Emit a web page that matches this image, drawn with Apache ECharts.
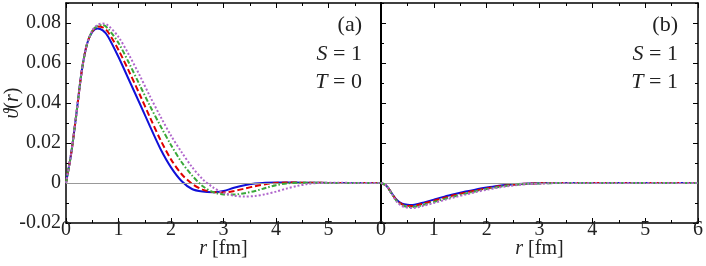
<!DOCTYPE html>
<html><head><meta charset="utf-8">
<script src="https://cdn.jsdelivr.net/npm/echarts@6/dist/echarts.min.js"></script>
<style>html,body{margin:0;padding:0;background:#fff}#c{width:706px;height:266px}</style>
</head><body><div id="c"></div>
<script>
var rVals = [0,0.1,0.2,0.3,0.4,0.5,0.6,0.7,0.8,1.0,1.2,1.4,1.6,1.8,2.0,2.2,2.4,2.6,2.8,3.0,3.2,3.4,3.6,3.8,4.0,4.2,4.4,4.6,4.8,5.2,5.6,6.0];
var aBlue   = [0,0.015,0.035,0.056,0.0695,0.0755,0.0772,0.0763,0.0733,0.0630,0.0515,0.0400,0.0283,0.0170,0.0078,0.0010,-0.0030,-0.0043,-0.0046,-0.0040,-0.0024,-0.0011,-0.0003,0.0001,0.0003,0.0003,0.0002,0.0001,0.0001,0,0,0];
var aRed    = [0,0.015,0.035,0.056,0.0695,0.0758,0.0782,0.0778,0.0755,0.0665,0.0558,0.0445,0.0328,0.0215,0.0118,0.0045,-0.0004,-0.0033,-0.0045,-0.0047,-0.0040,-0.0028,-0.0016,-0.0006,0.0000,0.0002,0.0002,0.0001,0.0001,0,0,0];
var aGreen  = [0,0.015,0.035,0.056,0.0695,0.0760,0.0786,0.0790,0.0772,0.0700,0.0600,0.0492,0.0385,0.0285,0.0190,0.0105,0.0038,-0.0015,-0.0045,-0.0057,-0.0058,-0.0051,-0.0040,-0.0025,-0.0011,-0.0002,0.0001,0.0001,0.0001,0,0,0];
var aPurple = [0,0.015,0.035,0.056,0.0695,0.0762,0.0790,0.0797,0.0788,0.0730,0.0640,0.0540,0.0433,0.0332,0.0237,0.0155,0.0080,0.0020,-0.0022,-0.0050,-0.0063,-0.0068,-0.0065,-0.0056,-0.0043,-0.0028,-0.0015,-0.0005,0,0.0001,0,0];
var bBlue   = [0,-0.0013,-0.0050,-0.0085,-0.0103,-0.0109,-0.0110,-0.0105,-0.0098,-0.0083,-0.0068,-0.0055,-0.0043,-0.0032,-0.0023,-0.0015,-0.0009,-0.0005,-0.0002,-0.0001,0,0,0,0,0,0,0,0,0,0,0,0];
var bRed    = [0,-0.0013,-0.0051,-0.0088,-0.0107,-0.0114,-0.0115,-0.0110,-0.0103,-0.0089,-0.0074,-0.0060,-0.0048,-0.0037,-0.0027,-0.0018,-0.0011,-0.0006,-0.0003,-0.0001,0,0,0,0,0,0,0,0,0,0,0,0];
var bGreen  = [0,-0.0013,-0.0052,-0.0091,-0.0111,-0.0119,-0.0120,-0.0116,-0.0109,-0.0095,-0.0080,-0.0066,-0.0053,-0.0041,-0.0030,-0.0021,-0.0013,-0.0008,-0.0004,-0.0002,-0.0001,0,0,0,0,0,0,0,0,0,0,0];
var bPurple = [0,-0.0013,-0.0053,-0.0094,-0.0115,-0.0123,-0.0125,-0.0121,-0.0114,-0.0100,-0.0085,-0.0071,-0.0058,-0.0045,-0.0034,-0.0024,-0.0016,-0.0010,-0.0005,-0.0003,-0.0001,0,0,0,0,0,0,0,0,0,0,0];
var yMajor = [-0.02,0,0.02,0.04,0.06,0.08];
var yMinor = [-0.01,0.01,0.03,0.05,0.07,0.09];

var FONT = '"Liberation Serif", "Times New Roman", serif';
function pairs(ys){ return rVals.map(function(r,i){ return [r, ys[i]]; }); }
var styles = [
  {color:'#1010d8', type:'solid'},
  {color:'#e00000', type:[6,3]},
  {color:'#3aa83a', type:[5,2,1.5,2]},
  {color:'#b066cc', type:[2,2]}
];
function mkSeries(data, idx, gi){
  var s = styles[idx];
  return {type:'line', xAxisIndex: gi*2, yAxisIndex: gi===0?0:3, data: pairs(data), showSymbol:false,
    smooth:0.3, lineStyle:{color:s.color, width:2, type:s.type}, z:3+idx, silent:true, animation:false};
}
var rich20 = {i:{fontFamily:FONT, fontStyle:'italic', fontSize:20, color:'#222'}};
function xAx(gi, pos, labels, showMax){
  return {type:'value', gridIndex:gi, position:pos, min:0, max:6, interval:1,
    axisLine:{show:true, onZero:false, lineStyle:{color:'#000', width:1.5}},
    axisTick:{show:true, inside:true, length:5, lineStyle:{color:'#000', width:1}},
    minorTick:{show:true, splitNumber:2, length:3, lineStyle:{color:'#000', width:1}},
    splitLine:{show:false},
    axisLabel:{show:labels, margin:-3, color:'#222', fontFamily:FONT, fontSize:20, showMaxLabel:showMax, showMinLabel:true},
    name: labels ? '{i|r} [fm]' : '', nameLocation:'middle', nameGap:16, nameMoveOverlap:false,
    nameTextStyle:{color:'#222', fontFamily:FONT, fontSize:20, rich:rich20}
  };
}
function yAx(gi, pos, vals, len, labels, lineShow, lineW){
  return {type:'value', gridIndex:gi, position:pos, min:-0.02, max:0.09,
    axisLine:{show:lineShow, onZero:false, lineStyle:{color:'#000', width:lineW}},
    axisTick:{show:vals.length>0, inside:true, length:len, customValues: vals.length?vals:undefined, lineStyle:{color:'#000', width:1}},
    splitLine:{show:false},
    axisLabel:{show:labels, customValues: labels?yMajor:undefined, margin:5, color:'#222', fontFamily:FONT, fontSize:20,
      formatter:function(v){ return Math.abs(v)<1e-9 ? '0' : v.toFixed(2); }},
    name: labels ? '{i|\u03d1}({i|r})' : '', nameLocation:'middle', nameGap:43, nameMoveOverlap:false,
    nameTextStyle:{color:'#222', fontFamily:FONT, fontSize:20, padding:[0,0,0,20], rich:rich20}
  };
}
function zeroLine(gi){
  return {type:'line', xAxisIndex: gi*2, yAxisIndex: gi===0?0:3, data:[], silent:true, z:2,
    markLine:{silent:true, symbol:['none','none'], label:{show:false},
      lineStyle:{color:'#999', width:1, type:'solid'}, data:[{yAxis:0}], animation:false}};
}
function ann(x, y, text){
  return {type:'text', x:x, y:y, style:{text:text, fill:'#222', fontFamily:FONT, fontSize:22, align:'right', verticalAlign:'middle',
    rich:{i:{fontFamily:FONT, fontStyle:'italic', fontSize:22, fill:'#222'}}}};
}
var chart = echarts.init(document.getElementById('c'), null, {renderer:'canvas'});
chart.setOption({
  animation:false,
  grid:[{left:66, top:3, width:315, height:220, outerBoundsMode:'none', containLabel:false},
        {left:381, top:3, width:317, height:220, outerBoundsMode:'none', containLabel:false}],
  xAxis:[xAx(0,'bottom',true,false), xAx(0,'top',false,false), xAx(1,'bottom',true,true), xAx(1,'top',false,false)],
  yAxis:[
    yAx(0,'left',yMajor,5,true,true,1.5),
    yAx(0,'left',yMinor,3,false,false,1.5),
    yAx(0,'right',[],0,false,true,2),
    yAx(1,'left',yMajor,5,false,true,2),
    yAx(1,'left',yMinor,3,false,false,2),
    yAx(1,'right',yMajor,5,false,true,1.5),
    yAx(1,'right',yMinor,3,false,false,1.5)
  ],
  series:[zeroLine(0), zeroLine(1),
    mkSeries(aBlue,0,0), mkSeries(aRed,1,0), mkSeries(aGreen,2,0), mkSeries(aPurple,3,0),
    mkSeries(bBlue,0,1), mkSeries(bRed,1,1), mkSeries(bGreen,2,1), mkSeries(bPurple,3,1)],
  graphic:[
    ann(362,25,'(a)'), ann(362,54,'{i|S} = 1'), ann(362,82,'{i|T} = 0'),
    ann(678,25,'(b)'), ann(678,54,'{i|S} = 1'), ann(678,82,'{i|T} = 1')
  ]
});
</script></body></html>
